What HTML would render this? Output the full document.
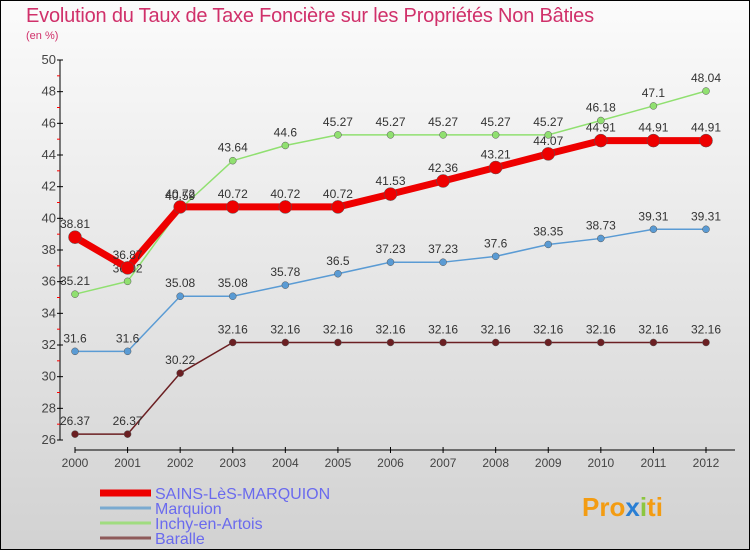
<!DOCTYPE html>
<html><head><meta charset="utf-8"><style>
body{margin:0;}
#wrap{width:750px;height:550px;position:relative;overflow:hidden;}
text{font-family:"Liberation Sans",sans-serif;}
</style></head><body>
<div id="wrap">
<svg id="chart" width="750" height="550" xmlns="http://www.w3.org/2000/svg">
<defs><linearGradient id="bg" x1="0" y1="0" x2="0" y2="1"><stop offset="0" stop-color="#fbfbfb"/><stop offset="1" stop-color="#d2d2d2"/></linearGradient></defs>
<rect x="0.5" y="0.5" width="749" height="549" fill="url(#bg)" stroke="#000"/>
<text x="26" y="22" font-size="20" fill="#d0306a" letter-spacing="-0.2">Evolution du Taux de Taxe Foncière sur les Propriétés Non Bâties</text>
<text x="26" y="39" font-size="11" fill="#d0306a">(en %)</text>
<g id="axes"></g>
<g id="series"></g>
<g id="legend"></g>
<text x="582" y="516" font-size="26" font-weight="bold" fill="#f39c12">Pro<tspan fill="#2a7fd4">x</tspan><tspan fill="#8cc63f">i</tspan><tspan fill="#f39c12">ti</tspan></text>
</svg>
</div>
<script>
const years=[2000,2001,2002,2003,2004,2005,2006,2007,2008,2009,2010,2011,2012];
const yTicks=[26,28,30,32,34,36,38,40,42,44,46,48,50];
const sains=[38.81,36.87,40.72,40.72,40.72,40.72,41.53,42.36,43.21,44.07,44.91,44.91,44.91];
const marquion=[31.6,31.6,35.08,35.08,35.78,36.5,37.23,37.23,37.6,38.35,38.73,39.31,39.31];
const inchy=[35.21,36.02,40.59,43.64,44.6,45.27,45.27,45.27,45.27,45.27,46.18,47.1,48.04];
const baralle=[26.37,26.37,30.22,32.16,32.16,32.16,32.16,32.16,32.16,32.16,32.16,32.16,32.16];
const NS='http://www.w3.org/2000/svg';
const xS=i=>75+i*(706-75)/12;
const yS=v=>440-(v-26)*(380/24);
function mk(tag,attrs,parent){const e=document.createElementNS(NS,tag);for(const k in attrs)e.setAttribute(k,attrs[k]);parent.appendChild(e);return e;}
const axes=document.getElementById('axes');
let a=mk('line',{x1:60,y1:yS(50),x2:60,y2:yS(26),stroke:'#000'},axes);


a=mk('line',{x1:75,y1:450,x2:735,y2:450,stroke:'#000'},axes);


yTicks.forEach(t=>{
 mk('line',{x1:57,y1:yS(t),x2:63,y2:yS(t),stroke:'#000'},axes);
 if(t<50) mk('line',{x1:57,y1:yS(t+1),x2:60,y2:yS(t+1),stroke:'#f00'},axes);
 const tx=mk('text',{x:56,y:yS(t)+4,'font-size':13,'text-anchor':'end',fill:'#444'},axes);
 tx.textContent=t;
 
 
});
years.forEach((y,i)=>{
 mk('line',{x1:xS(i),y1:447,x2:xS(i),y2:453,stroke:'#000'},axes);
 const tx=mk('text',{x:xS(i),y:467,'font-size':12,'text-anchor':'middle',fill:'#444'},axes);
 tx.textContent=y;
 
 
});
const ser=document.getElementById('series');
const defs=[
 {name:'baralle',vals:baralle,color:'#6b1f22',w:1.5,r:3.5},
 {name:'marquion',vals:marquion,color:'#5a9bd4',w:1.5,r:3.5},
 {name:'inchy',vals:inchy,color:'#90e070',w:1.5,r:3.5},
 {name:'sains',vals:sains,color:'#ee0000',w:7,r:6.5}
];
defs.forEach(d=>{
 const g=mk('g',{},ser);
 
 
 const pl=mk('polyline',{points:d.vals.map((v,i)=>xS(i)+','+yS(v)).join(' '),fill:'none',stroke:d.color,'stroke-width':d.w,'stroke-linejoin':'round'},g);
 
 
 d.vals.forEach((v,i)=>{
  const c=mk('circle',{cx:xS(i),cy:yS(v),r:d.r,fill:d.color,stroke:'#555','stroke-width':0.5},g);
  
  
  const t=mk('text',{x:xS(i),y:yS(v)-9,'font-size':12,'text-anchor':'middle',fill:'#333'},g);
  t.textContent=v;
  
  
 });
});
const leg=document.getElementById('legend');
const legItems=[['SAINS-LèS-MARQUION','#ee0000',7],['Marquion','#7aaad0',3],['Inchy-en-Artois','#a0dc80',3],['Baralle','#8e5a5a',3]];
legItems.forEach((it,i)=>{
 const y=493+i*15;
 const g=mk('g',{},leg);
 
 
 mk('line',{x1:100,y1:y,x2:151,y2:y,stroke:it[1],'stroke-width':it[2]},g);
 const t=mk('text',{x:155,y:y+6,'font-size':16,fill:'#6a6aee'},g);
 t.textContent=it[0];
});
</script>
</body></html>
